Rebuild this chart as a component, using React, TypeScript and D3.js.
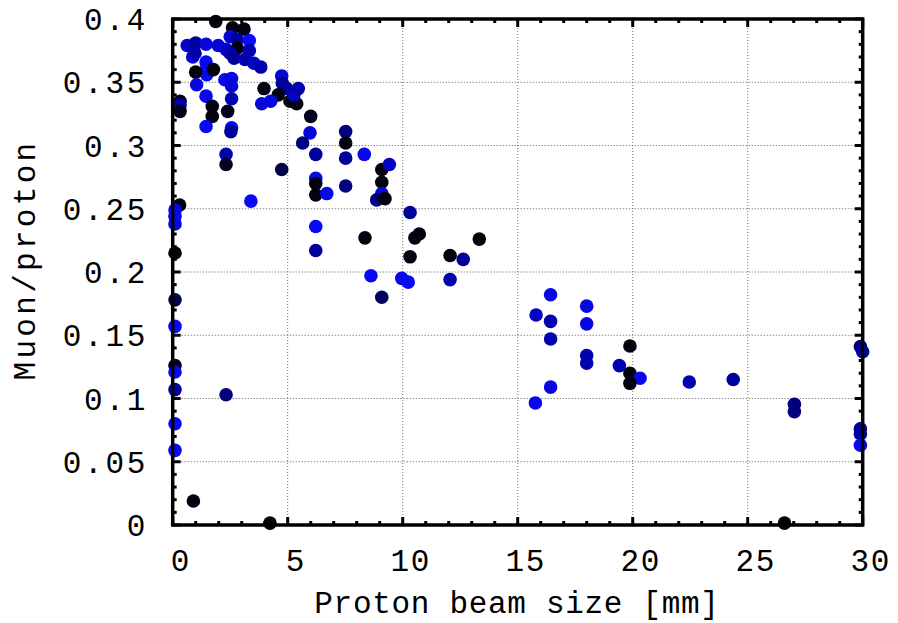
import React from "react";
import * as d3 from "d3";

const xs = [1.87,2.6,3.1,2.5,2.8,3.33,0.63,1.0,1.45,1.98,2.32,2.81,3.33,0.87,0.97,2.49,2.67,3.14,3.53,3.83,1.45,1.48,1.48,1.0,1.77,1.04,2.27,2.56,2.56,1.45,2.56,1.72,1.72,2.39,1.45,2.56,2.53,0.32,0.32,0.32,2.32,2.32,3.4,3.97,4.74,4.77,4.96,4.59,3.87,4.26,5.1,5.39,5.27,5.46,6.0,5.97,5.65,6.22,4.74,6.22,6.22,6.22,6.7,7.52,7.52,7.52,7.52,8.33,9.09,9.09,9.42,9.09,8.87,9.23,0.3,0.1,0.1,0.1,0.1,0.1,0.1,0.1,0.1,0.1,0.1,0.1,6.22,6.22,8.36,10.32,10.53,10.72,10.32,12.06,8.62,9.96,10.24,12.06,9.09,2.32,0.9,4.23,13.33,12.63,16.43,15.8,16.43,16.43,18.0,18.0,18.0,18.0,19.88,19.42,19.88,20.32,22.46,24.37,19.88,16.43,15.77,27.03,27.03,29.9,30.0,29.9,29.9,29.9,26.6];
const ys = [0.398,0.393,0.392,0.386,0.384,0.383,0.379,0.381,0.38,0.379,0.376,0.377,0.375,0.37,0.373,0.373,0.369,0.368,0.365,0.362,0.366,0.361,0.356,0.358,0.36,0.348,0.352,0.353,0.347,0.339,0.337,0.331,0.323,0.327,0.315,0.314,0.311,0.335,0.332,0.327,0.293,0.285,0.256,0.345,0.355,0.349,0.345,0.34,0.333,0.335,0.335,0.333,0.34,0.345,0.323,0.31,0.302,0.293,0.281,0.274,0.27,0.261,0.262,0.311,0.302,0.29,0.268,0.293,0.281,0.271,0.285,0.262,0.257,0.258,0.253,0.249,0.244,0.238,0.215,0.178,0.157,0.126,0.121,0.107,0.08,0.059,0.236,0.217,0.227,0.247,0.227,0.23,0.212,0.213,0.197,0.195,0.192,0.194,0.18,0.103,0.019,0.0015,0.226,0.21,0.182,0.166,0.161,0.147,0.173,0.159,0.134,0.128,0.1415,0.126,0.12,0.116,0.113,0.115,0.112,0.109,0.0965,0.0954,0.0896,0.141,0.137,0.076,0.072,0.063,0.0015];
const zs = [0,0,0,0.8,0.5,1,0.75,0.5,0.8,0.8,0.75,0,0.6,0.8,0.6,0.6,0.5,0.6,0.7,0.6,0.95,0.9,0.9,0,0,0.85,0.9,0.85,0.8,0.9,0.6,0,0,0.05,0.95,0.9,0.5,0.05,0.6,0.05,0.6,0.05,0.95,0,0.8,0.5,0.5,0,0.8,0.85,0,0,0.7,0.6,0.05,0.8,0.4,0.5,0.2,0.9,0,0,0.9,0.4,0,0.5,0.4,0.9,0,0,0.7,0.85,0.4,0,0,0.9,0.9,0.85,0,0.2,0.95,0,0.95,0.5,0.95,0.95,0.95,0.5,0,0.5,0,0,0,0,0.95,0.9,0.95,0.6,0.3,0.4,0,0,0,0.5,0.85,0.7,0.6,0.6,0.85,0.85,0.6,0.6,0,0.6,0,0.9,0.6,0.5,0,0.85,0.9,0.4,0.4,0.4,0.5,0.5,0.5,0.9,0];

const xTicks = [0, 5, 10, 15, 20, 25, 30];
const yTicks = [0, 0.05, 0.1, 0.15, 0.2, 0.25, 0.3, 0.35, 0.4];
const xTickLabels = ["0", "5", "10", "15", "20", "25", "30"];
const yTickLabels = ["0", "0.05", "0.1", "0.15", "0.2", "0.25", "0.3", "0.35", "0.4"];
const xTitle = "Proton beam size [mm]";
const yTitle = "Muon/proton";

const W = 898, H = 623;
const L = 172.7, R = 862.7, T = 19, B = 525;
const FONT = "'Liberation Mono', 'DejaVu Sans Mono', monospace";

export default function App() {
  const x = d3.scaleLinear().domain([0, 30]).range([L, R]);
  const y = d3.scaleLinear().domain([0, 0.4]).range([B, T]);
  const color = d3.scaleLinear<string>().domain([0, 0.5, 1]).range(["#03030f", "#00009a", "#0a0aff"]);
  const xMinor = d3.range(0, 31, 1);
  const yMinor = d3.range(0, 41, 1).map(v => v / 100);
  const data = xs.map((v, i) => ({ x: v, y: ys[i], z: zs[i] }));
  return (
    <svg width={W} height={H} style={{ position: "fixed", left: 0, top: 0, background: "#fff" }}>
      <rect width={W} height={H} fill="#fff" />
      {xTicks.slice(1, -1).map(t => (
        <line key={"gx" + t} x1={x(t)} x2={x(t)} y1={T} y2={B} stroke="#777" strokeWidth={1} strokeDasharray="1,2" />
      ))}
      {yTicks.slice(1, -1).map(t => (
        <line key={"gy" + t} x1={L} x2={R} y1={y(t)} y2={y(t)} stroke="#555" strokeWidth={1} strokeDasharray="1,2" />
      ))}
      {xMinor.map(t => {
        const major = t % 5 === 0;
        const len = major ? 8 : 4;
        return (
          <g key={"xm" + t}>
            <line x1={x(t)} x2={x(t)} y1={B} y2={B - len} stroke="#000" strokeWidth={3} />
            <line x1={x(t)} x2={x(t)} y1={T} y2={T + len} stroke="#000" strokeWidth={3} />
          </g>
        );
      })}
      {yMinor.map((t, i) => {
        const major = i % 5 === 0;
        const len = major ? 8 : 4;
        return (
          <g key={"ym" + i}>
            <line x1={L} x2={L + len} y1={y(t)} y2={y(t)} stroke="#000" strokeWidth={3} />
            <line x1={R} x2={R - len} y1={y(t)} y2={y(t)} stroke="#000" strokeWidth={3} />
          </g>
        );
      })}
      {data.map((d, i) => (
        <circle key={i} cx={x(d.x)} cy={y(d.y)} r={6.8} fill={color(d.z)} />
      ))}
      <rect x={L} y={T} width={R - L} height={B - T} fill="none" stroke="#000" strokeWidth={3.5} />
      {xTicks.map((t, i) => (
        <text key={"xl" + t} x={x(t) + 8} y={571} textAnchor="middle" fontFamily={FONT} fontSize={31} letterSpacing={1.5}>{xTickLabels[i]}</text>
      ))}
      {yTicks.map((t, i) => (
        <text key={"yl" + t} x={148} y={y(t) + 11} textAnchor="end" fontFamily={FONT} fontSize={31} letterSpacing={2.7}>{yTickLabels[i]}</text>
      ))}
      <text x={517} y={613} textAnchor="middle" fontFamily={FONT} fontSize={31} letterSpacing={0.7}>{xTitle}</text>
      <text transform={`translate(35,260) rotate(-90)`} textAnchor="middle" fontFamily={FONT} fontSize={31} letterSpacing={3.3}>{yTitle}</text>
    </svg>
  );
}
